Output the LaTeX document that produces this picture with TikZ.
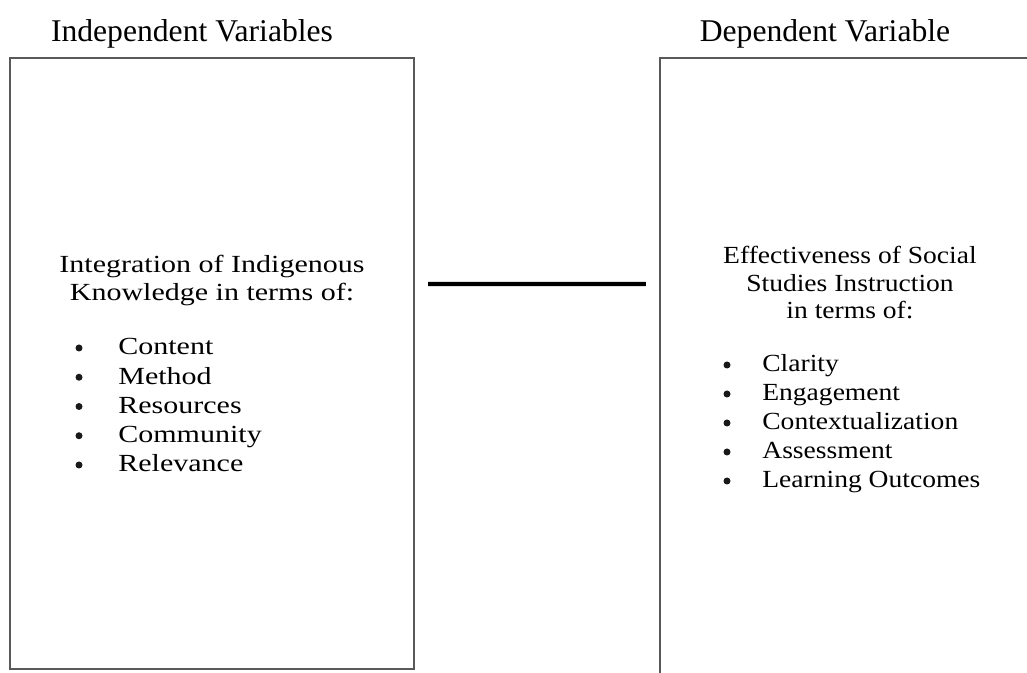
\documentclass[tikz,border=0pt]{standalone}
\usepackage{fontspec}
\setmainfont{Liberation Serif}
\newfontfamily\ivfont[FakeStretch=1.22]{Liberation Serif}
\newfontfamily\dvfont[FakeStretch=1.12]{Liberation Serif}
\usepackage{tikz}
\usetikzlibrary{positioning}

\begin{document}
\begin{tikzpicture}[
frame/.style={rectangle, draw=black!65, line width=1.2pt},
title/.style={anchor=base, inner sep=0pt, font=\fontsize{18}{22}\selectfont},
ivtext/.style={anchor=north, inner sep=0pt, align=center, font=\ivfont\fontsize{14}{15.9}\selectfont},
dvtext/.style={anchor=north, inner sep=0pt, align=center, font=\dvfont\fontsize{14}{15.6}\selectfont},
ivitem/.style={anchor=base west, inner sep=0pt, font=\ivfont\fontsize{14}{15.9}\selectfont},
dvitem/.style={anchor=base west, inner sep=0pt, font=\dvfont\fontsize{14}{15.6}\selectfont},
dot/.style={circle, fill=black!90, inner sep=0pt, minimum size=0.14cm},
link/.style={line width=2.3pt, shorten <=0.26cm, shorten >=0.26cm}
]
\useasboundingbox (0,0) rectangle (20.54,-13.46);
\clip (0,0) rectangle (20.54,-13.46);

% the two boxes
\node[frame, minimum width=8.08cm, minimum height=12.22cm] (iv) at (4.24,-7.27) {};
\node[frame, minimum width=8.3cm, minimum height=13.34cm] (dv) at (17.35,-7.83) {};

\node[title] (ivtitle) at (3.84,-0.84) {Independent Variables};
\node[title] (dvtitle) at (16.5,-0.84) {Dependent Variable};

% independent side
\node[ivtext] (ivhead) at (4.24,-5.10) {Integration of Indigenous\\Knowledge in terms of:};
\node[ivitem] (content) at (2.36,-7.10) {Content};
\node[ivitem] (method) at ([yshift=-0.585cm]content.base west) {Method};
\node[ivitem] (resources) at ([yshift=-0.585cm]method.base west) {Resources};
\node[ivitem] (community) at ([yshift=-0.585cm]resources.base west) {Community};
\node[ivitem] (relevance) at ([yshift=-0.585cm]community.base west) {Relevance};
\node[dot] (b1) at ([xshift=-0.78cm, yshift=0.14cm]content.base west) {};
\node[dot] (b2) at ([xshift=-0.78cm, yshift=0.14cm]method.base west) {};
\node[dot] (b3) at ([xshift=-0.78cm, yshift=0.14cm]resources.base west) {};
\node[dot] (b4) at ([xshift=-0.78cm, yshift=0.14cm]community.base west) {};
\node[dot] (b5) at ([xshift=-0.78cm, yshift=0.14cm]relevance.base west) {};

% dependent side
\node[dvtext] (dvhead) at (17.0,-4.92) {Effectiveness of Social\\Studies Instruction\\in terms of:};
\node[dvitem] (clarity) at (15.24,-7.44) {Clarity};
\node[dvitem] (engagement) at ([yshift=-0.58cm]clarity.base west) {Engagement};
\node[dvitem] (context) at ([yshift=-0.58cm]engagement.base west) {Contextualization};
\node[dvitem] (assessment) at ([yshift=-0.58cm]context.base west) {Assessment};
\node[dvitem] (outcomes) at ([yshift=-0.58cm]assessment.base west) {Learning Outcomes};
\node[dot] (d1) at ([xshift=-0.70cm, yshift=0.14cm]clarity.base west) {};
\node[dot] (d2) at ([xshift=-0.70cm, yshift=0.14cm]engagement.base west) {};
\node[dot] (d3) at ([xshift=-0.70cm, yshift=0.14cm]context.base west) {};
\node[dot] (d4) at ([xshift=-0.70cm, yshift=0.14cm]assessment.base west) {};
\node[dot] (d5) at ([xshift=-0.70cm, yshift=0.14cm]outcomes.base west) {};

\draw[link] ([yshift=1.59cm]iv.east) -- ([yshift=2.15cm]dv.west);

\end{tikzpicture}
\end{document}
